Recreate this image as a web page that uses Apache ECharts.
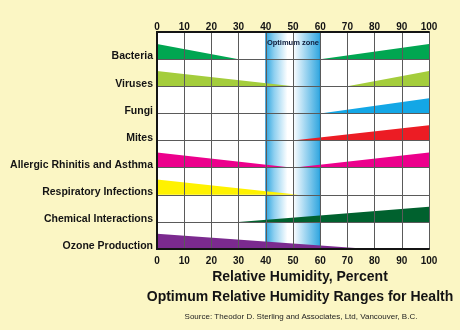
<!DOCTYPE html>
<html>
<head>
<meta charset="utf-8">
<script src="https://cdn.jsdelivr.net/npm/echarts@6/dist/echarts.min.js"></script>
<style>
  html, body { margin: 0; padding: 0; background: #fbf6c4; }
  #chart { width: 460px; height: 330px; }
</style>
</head>
<body>
<div id="chart"></div>
<script>
// Health effects, top to bottom
const categories = [
  'Bacteria',
  'Viruses',
  'Fungi',
  'Mites',
  'Allergic Rhinitis and Asthma',
  'Respiratory Infections',
  'Chemical Interactions',
  'Ozone Production'
];

// Effect strongest at low humidity: [effect, humidity at full strength, humidity where it vanishes]
const fallingRanges = [
  ['Bacteria', 0, 30],
  ['Viruses', 0, 50],
  ['Allergic Rhinitis and Asthma', 0, 50],
  ['Respiratory Infections', 0, 52],
  ['Ozone Production', 0, 78]
];

// Effect strongest at high humidity: [effect, humidity where it starts, humidity at full strength]
const risingRanges = [
  ['Bacteria', 60, 100],
  ['Viruses', 70, 100],
  ['Fungi', 60, 100],
  ['Mites', 50, 100],
  ['Allergic Rhinitis and Asthma', 50, 100],
  ['Chemical Interactions', 30, 100]
];

// Recommended humidity band, percent
const optimumZone = [40, 60];

// Humidity scale, percent
const humidityMin = 0;
const humidityMax = 100;
const humidityStep = 10;

const effectColors = {
  'Bacteria': '#00a651',
  'Viruses': '#a4cd3c',
  'Fungi': '#13a7e6',
  'Mites': '#ec1c24',
  'Allergic Rhinitis and Asthma': '#ec008c',
  'Respiratory Infections': '#fff200',
  'Chemical Interactions': '#00612e',
  'Ozone Production': '#7b2a8f'
};

// Each wedge: [category index, humidity where thin, humidity where thick]
const wedgeData = [];
fallingRanges.forEach(([name, full, thin]) => {
  wedgeData.push([categories.indexOf(name), thin, full]);
});
risingRanges.forEach(([name, thin, full]) => {
  wedgeData.push([categories.indexOf(name), thin, full]);
});

const FONT = '"Liberation Sans", Arial, Helvetica, sans-serif';
const INK = '#141414';

const chart = echarts.init(document.getElementById('chart'));

const xAxisBase = {
  type: 'value',
  min: humidityMin,
  max: humidityMax,
  interval: humidityStep,
  axisTick: { show: false },
  axisLine: { show: true, lineStyle: { color: INK, width: 2 } },
  z: 10
};

chart.setOption({
  animation: false,
  backgroundColor: '#fbf6c4',
  grid: {
    left: 157, right: 31, top: 32, bottom: 81,
    show: true, backgroundColor: '#ffffff', borderWidth: 0
  },
  xAxis: [
    Object.assign({}, xAxisBase, {
      position: 'top',
      axisLabel: { margin: 0, fontFamily: FONT, fontWeight: 'bold', fontSize: 10, color: INK },
      splitLine: { show: true, lineStyle: { color: '#5a5a5a', width: 1 } }
    }),
    Object.assign({}, xAxisBase, {
      position: 'bottom',
      axisLabel: { margin: 7, fontFamily: FONT, fontWeight: 'bold', fontSize: 10, color: INK },
      splitLine: { show: false }
    })
  ],
  yAxis: [
    {
      type: 'category',
      data: categories,
      inverse: true,
      axisTick: { show: false },
      axisLine: { show: true, lineStyle: { color: INK, width: 2 } },
      axisLabel: {
        margin: 4, fontFamily: FONT, fontWeight: 'bold', fontSize: 10.5, color: INK,
        interval: 0, showMinLabel: true, showMaxLabel: true, hideOverlap: false,
        lineHeight: 22,
        // empty first line drops each name toward the lower part of its row
        formatter: function (name) { return '\n' + name; }
      },
      splitLine: { show: true, lineStyle: { color: '#5a5a5a', width: 1 } },
      z: 10
    },
    {
      type: 'category',
      data: categories,
      inverse: true,
      position: 'right',
      axisTick: { show: false },
      axisLabel: { show: false },
      axisLine: { show: true, lineStyle: { color: INK, width: 2 } },
      splitLine: { show: false },
      z: 10
    }
  ],
  series: [
    {
      type: 'custom',
      name: 'Optimum zone',
      xAxisIndex: 0,
      yAxisIndex: 0,
      z: 1,
      silent: true,
      data: [optimumZone],
      encode: { x: [0, 1] },
      renderItem: function (params, api) {
        const cs = params.coordSys;
        const a = api.coord([api.value(0), 0]);
        const b = api.coord([api.value(1), 0]);
        return {
          type: 'group',
          children: [
            {
              type: 'rect',
              shape: { x: a[0], y: cs.y, width: b[0] - a[0], height: cs.height },
              style: {
                fill: new echarts.graphic.LinearGradient(0, 0, 1, 0, [
                  { offset: 0, color: '#2aa3de' },
                  { offset: 0.16, color: '#8fd0f0' },
                  { offset: 0.4, color: '#ffffff' },
                  { offset: 0.5, color: '#ffffff' },
                  { offset: 0.56, color: '#e6f4fc' },
                  { offset: 1, color: '#2aa3de' }
                ]),
                stroke: '#1b8fcf',
                lineWidth: 1
              }
            },
            {
              type: 'text',
              x: (a[0] + b[0]) / 2,
              y: cs.y + 11,
              style: {
                text: 'Optimum zone',
                align: 'center',
                verticalAlign: 'middle',
                fontFamily: FONT,
                fontWeight: 'bold',
                fontSize: 7.5,
                fill: '#0d1a3a'
              }
            }
          ]
        };
      }
    },
    {
      type: 'custom',
      name: 'Effects',
      xAxisIndex: 0,
      yAxisIndex: 0,
      z: 2,
      silent: true,
      data: wedgeData,
      encode: { x: [1, 2], y: 0 },
      renderItem: function (params, api) {
        const cat = api.value(0);
        const pThin = api.coord([api.value(1), cat]);
        const pFull = api.coord([api.value(2), cat]);
        const band = api.size([0, 1])[1];
        const base = pThin[1] + band / 2;
        const h = band * 0.56;
        return {
          type: 'polygon',
          shape: { points: [[pThin[0], base], [pFull[0], base], [pFull[0], base - h]] },
          style: { fill: effectColors[categories[cat]] }
        };
      }
    }
  ],
  graphic: [
    {
      type: 'text', x: 300, y: 277,
      style: {
        text: 'Relative Humidity, Percent', align: 'center', verticalAlign: 'middle',
        fontFamily: FONT, fontWeight: 'bold', fontSize: 14, fill: INK
      }
    },
    {
      type: 'text', x: 300, y: 297,
      style: {
        text: 'Optimum Relative Humidity Ranges for Health', align: 'center', verticalAlign: 'middle',
        fontFamily: FONT, fontWeight: 'bold', fontSize: 14, fill: INK
      }
    },
    {
      type: 'text', x: 301, y: 317,
      style: {
        text: 'Source: Theodor D. Sterling and Associates, Ltd, Vancouver, B.C.', align: 'center', verticalAlign: 'middle',
        fontFamily: FONT, fontSize: 8, fill: '#222222'
      }
    }
  ]
});
</script>
</body>
</html>
